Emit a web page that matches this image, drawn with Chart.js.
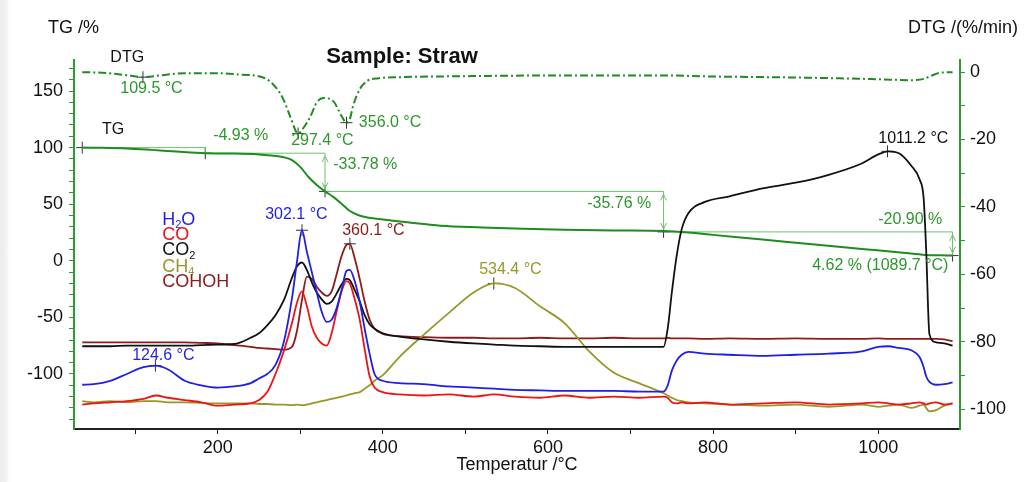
<!DOCTYPE html>
<html>
<head>
<meta charset="utf-8">
<title>Sample: Straw</title>
<script src="https://cdn.jsdelivr.net/npm/chart.js@4.4.1/dist/chart.umd.min.js"></script>
<style>
  html, body { margin: 0; padding: 0; }
  body { width: 1024px; height: 482px; background: linear-gradient(to right, #ebebeb 0px, #f3f3f3 7px, #ffffff 9px); }
  canvas { display: block; }
</style>
</head>
<body>
<canvas id="tgChart" width="1024" height="482"></canvas>
<script>
// TG curve (%)
var tgTemp = [36, 60, 90, 120, 150, 185, 220, 250, 265, 280, 290, 300, 310, 320, 330, 340, 350, 360, 370, 380,
              400, 430, 470, 520, 570, 620, 680, 740, 770, 800, 860, 920, 980, 1030, 1057, 1075, 1090];
var tgValues = [100, 99.9, 99.3, 98, 96.5, 95.07, 94.8, 94, 93, 91.5, 89, 83, 74, 67, 61.3, 56.5, 50.5, 44, 40.5, 38.5,
                36.5, 34, 31, 29.5, 28.3, 27.5, 26.8, 26.3, 25, 22.9, 18.8, 14.6, 10.5, 7.1, 5.2, 4.8, 4.62];

// DTG curve (%/min, right axis)
var dtgTemp = [36, 60, 90, 109.5, 130, 160, 200, 230, 250, 262, 272, 280, 288, 297.4, 304, 312, 320, 328, 340, 350,
               356, 360, 364, 372, 381, 395, 420, 500, 600, 700, 740, 800, 900, 1000, 1040, 1055, 1065, 1075, 1090];
var dtgValues = [0, -0.2, -0.9, -1.5, -1.0, -0.3, -0.3, -0.8, -1.2, -2.5, -5, -8.3, -13.3, -18.2, -16.5, -13.3, -9, -7.7, -8.6, -13,
                 -15, -14, -10, -5.1, -2.6, -1.8, -1.5, -1.2, -1, -1, -1, -1.3, -1.6, -2.1, -2.4, -2, -1, -0.2, 0];

// MS ion curves on a common temperature grid
var msTemp = [36, 50, 70, 90, 110, 125, 140, 160, 180, 200,
              220, 240, 250, 260, 270, 280, 290, 296, 302, 308,
              314, 320, 326, 332, 338, 344, 350, 356, 360, 366,
              372, 378, 384, 390, 400, 420, 450, 480, 510, 535,
              560, 590, 620, 650, 680, 710, 740, 745, 750, 756,
              762, 770, 790, 820, 860, 900, 940, 980, 1000, 1012,
              1025, 1040, 1050, 1055, 1058, 1062, 1070, 1080, 1090];
var h2oValues = [-109.5, -109, -106, -100, -94, -92.6, -96, -106, -110, -112,
                 -111, -108, -104, -100, -92, -72, -33, -1, 27, 8,
                 -10, -28, -45, -54, -52, -42, -26, -9, -8, -18,
                 -36, -60, -82, -100, -106, -108, -109, -111, -112, -113,
                 -114, -114.5, -115, -115, -115, -115.5, -115.5, -110, -97, -88,
                 -83, -80.5, -82, -83, -84, -83, -82, -80, -76, -75.5,
                 -77, -79, -85, -94, -102, -107, -109.5, -109, -107.5];
var coValues = [-127, -126, -125, -124, -122, -119, -121, -123, -125, -128,
                -127, -126, -123, -116, -100, -80, -55, -37, -27, -40,
                -58, -68, -73, -75, -64, -45, -27, -18, -20, -34,
                -52, -78, -102, -112, -116, -118, -119, -118, -120, -118,
                -120, -121, -119, -121, -120, -121, -120, -121, -125, -126,
                -125, -126, -125, -127, -126, -125, -127, -126, -125, -126,
                -127, -126, -125, -126, -127, -126, -125, -127, -126];
var co2Values = [-75.5, -75.5, -75.5, -75, -75, -75, -75, -75, -74.5, -74,
                 -73.5, -68, -64, -57, -48, -35, -15, -5, -1.5, -8,
                 -19, -28, -34, -38, -36, -29, -21, -16, -17, -26,
                 -36, -48, -56, -60, -64, -67, -69.5, -71.5, -73, -74,
                 -75, -75.5, -76, -76, -76, -76, -76, -60, -28, 5,
                 28, 42, 52, 57, 64, 69, 76, 86, 94, 96.7,
                 95, 84, 72, 55, 10, -65, -72, -73, -75];
var ch4Values = [-124, -125, -124, -125, -124, -124, -125, -125, -125.5, -126,
                 -126, -126, -126.5, -126.5, -127, -127, -127.5, -127, -127.5, -127,
                 -126, -125, -124, -123, -122, -121, -120, -119, -118, -117,
                 -116, -113, -110, -106, -101, -85, -65, -46, -28, -20,
                 -24, -40, -55, -80, -99, -108, -117, -119, -121, -123,
                 -124, -125, -126, -127, -128, -127, -129, -127, -129, -128,
                 -127, -130, -128, -127, -130, -133, -132, -128, -126];
var cohohValues = [-72, -72, -72, -72, -72, -72, -72, -72, -72.5, -73,
                   -74.5, -76, -77, -77.5, -78, -78.5, -76, -62, -35, -14,
                   -16, -23, -28, -31, -27, -12, 4, 14, 15, 2,
                   -16, -36, -52, -60, -64.5, -66.5, -67.5, -68, -68, -68.5,
                   -68.5, -68, -68.5, -68.5, -68, -68.5, -68.5, -68, -68.5, -68.5,
                   -68.5, -68.5, -69, -68.5, -69, -68.5, -69, -69, -68.5, -69,
                   -69, -69, -69, -69, -69, -69, -69, -69.5, -71];

// TG step evaluation
var stepTemp = [36, 185, 330, 740, 1090];
var stepLevel = [100, 95.07, 61.29, 25.53, 4.62];
var stepLabels = ['-4.93 %', '-33.78 %', '-35.76 %', '-20.90 %'];

// peak markers
var dtgPeakTemp = [109.5, 297.4, 356.0];
var dtgPeakValue = [-1.5, -18.2, -15];
var gasPeakTemp = [124.6, 302.1, 360.1, 534.4, 1011.2];
var gasPeakValue = [-92.6, 27, 15, -20, 96.7];

var gasNames = ['H_2O', 'CO', 'CO_2', 'CH_4', 'COHOH'];
var xTicks = [100, 200, 300, 400, 500, 600, 700, 800, 900, 1000];

var FONT = '"Liberation Sans", Arial, sans-serif';
var GREEN = '#1f8c1f', LABEL_GREEN = '#2c982c', AXIS_GREEN = '#2f9a2f', STEP_GREEN = '#6cc26c';
var gasColors = ['#1f1fe6', '#ee1414', '#111111', '#97972a', '#8b1c1c'];
var gasSeries = [h2oValues, coValues, co2Values, ch4Values, cohohValues];

function pts(xs, ys) {
  return xs.map(function (t, i) { return { x: t, y: ys[i] }; });
}

function range(a, b, step) {
  var out = [];
  for (var v = a; v <= b + 1e-9; v += step) out.push({ value: v });
  return out;
}

var datasets = [];
gasSeries.forEach(function (vals, i) {
  datasets.push({
    label: gasNames[i], data: pts(msTemp, vals), yAxisID: 'y',
    borderColor: gasColors[i], borderWidth: 1.8, pointRadius: 0,
    cubicInterpolationMode: 'monotone'
  });
});
datasets.push({
  label: 'TG', data: pts(tgTemp, tgValues), yAxisID: 'y',
  borderColor: GREEN, borderWidth: 2, pointRadius: 0, cubicInterpolationMode: 'monotone'
});
datasets.push({
  label: 'TG steps', data: pts(stepTemp, stepLevel), yAxisID: 'y',
  borderColor: STEP_GREEN, borderWidth: 1, pointRadius: 0, stepped: 'before'
});
datasets.push({
  label: 'DTG', data: pts(dtgTemp, dtgValues), yAxisID: 'y2',
  borderColor: GREEN, borderWidth: 2, borderDash: [8, 3, 2, 3], pointRadius: 0,
  cubicInterpolationMode: 'monotone'
});
var crossStyle = { showLine: false, pointStyle: 'cross', pointRadius: 6, borderWidth: 1,
                   borderColor: '#333', pointBorderColor: '#333' };
datasets.push(Object.assign({ label: 'TG marks', data: pts(stepTemp, stepLevel), yAxisID: 'y' }, crossStyle));
datasets.push(Object.assign({ label: 'DTG peaks', data: pts(dtgPeakTemp, dtgPeakValue), yAxisID: 'y2' }, crossStyle));
datasets.push(Object.assign({ label: 'Gas peaks', data: pts(gasPeakTemp, gasPeakValue), yAxisID: 'y' }, crossStyle));

function drawChem(ctx, text, x, y, size) {
  var parts = text.split(/(_\d)/);
  parts.forEach(function (p) {
    if (!p) return;
    if (p.charAt(0) === '_') {
      ctx.font = Math.round(size * 0.62) + 'px ' + FONT;
      ctx.fillText(p.slice(1), x, y + size * 0.28);
      x += ctx.measureText(p.slice(1)).width;
    } else {
      ctx.font = size + 'px ' + FONT;
      ctx.fillText(p, x, y);
      x += ctx.measureText(p).width;
    }
  });
}

function arrowHead(ctx, px, py, dir) {
  ctx.beginPath();
  ctx.moveTo(px - 3, py - dir * 6);
  ctx.lineTo(px, py);
  ctx.lineTo(px + 3, py - dir * 6);
  ctx.stroke();
}

var annotationPlugin = {
  id: 'annotations',
  afterDraw: function (chart) {
    var ctx = chart.ctx, sx = chart.scales.x, sy = chart.scales.y, area = chart.chartArea;
    function X(t) { return sx.getPixelForValue(t); }
    function Y(v) { return sy.getPixelForValue(v); }
    ctx.save();

    // double arrows on the step verticals
    ctx.strokeStyle = STEP_GREEN; ctx.lineWidth = 1;
    for (var i = 2; i < stepTemp.length; i++) {
      var px = X(stepTemp[i]);
      arrowHead(ctx, px, Y(stepLevel[i - 1]) + 3, -1);
      arrowHead(ctx, px, Y(stepLevel[i]) - 3, 1);
    }

    ctx.textBaseline = 'middle';
    ctx.textAlign = 'left';
    function label(text, t, v, color, size) {
      ctx.fillStyle = color;
      ctx.font = (size || 16) + 'px ' + FONT;
      ctx.fillText(text, X(t), Y(v));
    }

    // curve names
    label('DTG', 70, 179.5, '#111');
    label('TG', 60, 115.9, '#111');

    // DTG peaks
    label(dtgPeakTemp[0].toFixed(1) + ' °C', 82, 152.2, LABEL_GREEN);
    label(dtgPeakTemp[1].toFixed(1) + ' °C', 289, 106.5, LABEL_GREEN);
    label(dtgPeakTemp[2].toFixed(1) + ' °C', 371, 122.4, LABEL_GREEN);

    // TG steps
    label(stepLabels[0], 194.5, 110.2, LABEL_GREEN);
    label(stepLabels[1], 340, 85.4, LABEL_GREEN);
    label(stepLabels[2], 647.5, 50.4, LABEL_GREEN);
    label(stepLabels[3], 1000, 36.5, LABEL_GREEN);
    label(stepLevel[4].toFixed(2) + ' % (1089.7 °C)', 920, -4.2, LABEL_GREEN);

    // gas peaks
    label(gasPeakTemp[1].toFixed(1) + ' °C', 257.5, 41.2, gasColors[0]);
    label(gasPeakTemp[2].toFixed(1) + ' °C', 350.8, 26.8, gasColors[4]);
    label(gasPeakTemp[3].toFixed(1) + ' °C', 516.7, -7.7, gasColors[3]);
    label(gasPeakTemp[0].toFixed(1) + ' °C', 96.4, -84.1, gasColors[0]);
    label(gasPeakTemp[4].toFixed(1) + ' °C', 1000, 108, '#111');

    // legend
    var legendV = [36.3, 22.6, 9.1, -5.3, -18.8];
    gasNames.forEach(function (name, k) {
      ctx.fillStyle = gasColors[k];
      drawChem(ctx, name, X(132.8), Y(legendV[k]), 18);
    });

    // titles
    ctx.fillStyle = '#111';
    ctx.font = 'bold 22px ' + FONT;
    ctx.fillText('Sample: Straw', X(331.4), area.top - 3);
    ctx.font = '18px ' + FONT;
    ctx.fillText('TG /%', area.left - 26, area.top - 32);
    ctx.textAlign = 'right';
    ctx.fillText('DTG /(%/min)', area.right + 58, area.top - 32);
    ctx.restore();
  }
};

var tickFont = { family: FONT, size: 18 };

new Chart(document.getElementById('tgChart'), {
  type: 'line',
  data: { datasets: datasets },
  plugins: [annotationPlugin],
  options: {
    responsive: false,
    animation: false,
    devicePixelRatio: 1,
    layout: { padding: { top: 60, left: 0, right: 0, bottom: 0 } },
    plugins: { legend: { display: false }, tooltip: { enabled: false } },
    scales: {
      x: {
        type: 'linear', min: 26, max: 1099,
        afterBuildTicks: function (s) { s.ticks = xTicks.map(function (v) { return { value: v }; }); },
        afterFit: function (s) { s.height = 53; },
        ticks: { autoSkip: false, maxRotation: 0, padding: 3, color: '#111', font: tickFont,
                 callback: function (v) { return v % 200 === 0 ? v : ''; } },
        grid: { drawOnChartArea: false, drawTicks: true, tickLength: 5, tickColor: '#222' },
        border: { display: true, color: '#222', width: 2 },
        title: { display: true, text: 'Temperatur /°C', color: '#111', font: tickFont,
                 padding: { top: 0, bottom: 6 } }
      },
      y: {
        type: 'linear', position: 'left', min: -148.6, max: 177.4,
        afterBuildTicks: function (s) { s.ticks = range(-140, 170, 10); },
        afterFit: function (s) { s.width = 74; },
        ticks: { autoSkip: false, padding: 6, color: '#111', font: tickFont,
                 callback: function (v) { return v % 50 === 0 ? v : ''; } },
        grid: { drawOnChartArea: false, drawTicks: true, tickLength: 5, tickColor: AXIS_GREEN },
        border: { display: true, color: AXIS_GREEN, width: 2 }
      },
      y2: {
        type: 'linear', position: 'right', min: -105.9, max: 3.6,
        afterBuildTicks: function (s) { s.ticks = range(-100, 0, 10); },
        afterFit: function (s) { s.width = 64; },
        ticks: { autoSkip: false, padding: 5, color: '#111', font: tickFont,
                 callback: function (v) { return v % 20 === 0 ? v : ''; } },
        grid: { drawOnChartArea: false, drawTicks: true, tickLength: 5, tickColor: AXIS_GREEN },
        border: { display: true, color: AXIS_GREEN, width: 2 }
      }
    }
  }
});
</script>
</body>
</html>
